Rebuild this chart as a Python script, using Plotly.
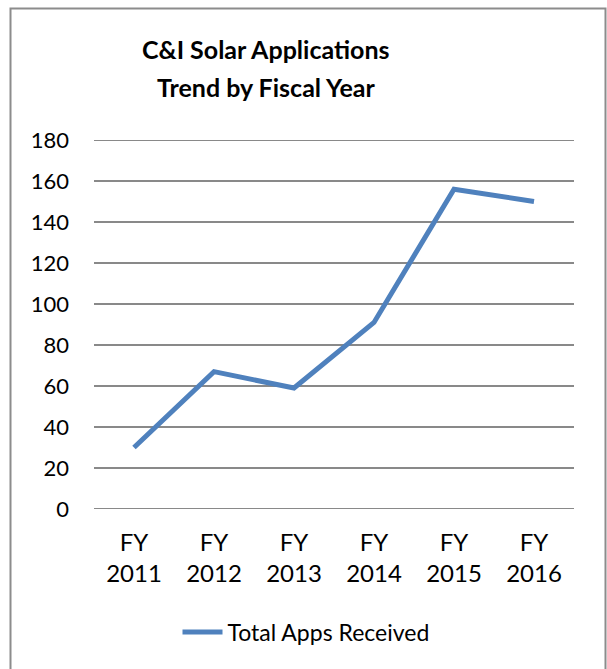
import plotly.graph_objects as go

categories = ["FY<br>2011", "FY<br>2012", "FY<br>2013", "FY<br>2014", "FY<br>2015", "FY<br>2016"]
total_apps = [30, 67, 59, 91, 156, 150]
y_ticks = [0, 20, 40, 60, 80, 100, 120, 140, 160, 180]
title_lines = ["C&I Solar Applications", "Trend by Fiscal Year"]

W, H = 607, 669
L, R, T, B = 94, 33, 140, 160
pw, ph = W - L - R, H - T - B

def px_x(p):
    return (p - L) / pw

def px_y(p):
    return (H - B - p) / ph

FONT = "Lato"
GRID = "#898989"

fig = go.Figure()
fig.add_trace(go.Scatter(
    x=categories, y=total_apps, mode="lines",
    name="Total Apps Received",
    line=dict(color="#4F81BD", width=5),
))

annotations = []
for txt, yc in zip(title_lines, [49, 87]):
    annotations.append(dict(
        text="<b>" + txt + "</b>", xref="paper", yref="paper",
        x=px_x(266), y=px_y(yc), xanchor="center", yanchor="middle",
        showarrow=False, font=dict(family=FONT, size=25, color="black"),
    ))

edge_lines = [dict(
    type="line", xref="paper", yref="y",
    x0=0, x1=1, y0=v, y1=v,
    line=dict(color=GRID, width=2), layer="below",
) for v in (y_ticks[0], y_ticks[-1])]

fig.update_layout(
    width=W, height=H,
    margin=dict(l=L, r=R, t=T, b=B),
    paper_bgcolor="white", plot_bgcolor="white",
    font=dict(family=FONT, size=22, color="black"),
    annotations=annotations,
    showlegend=True,
    legend=dict(
        orientation="h", xref="container", yref="container",
        x=306 / W, xanchor="center", y=1 - 632 / H, yanchor="middle",
        font=dict(family=FONT, size=23, color="black"),
        itemwidth=40,
    ),
    xaxis=dict(
        type="category", range=[-0.5, 5.5], showgrid=False, zeroline=False,
        showline=False, ticks="", ticklabelstandoff=17,
        tickfont=dict(size=24),
    ),
    yaxis=dict(
        range=[0, 180], tickvals=y_ticks, showgrid=True,
        gridcolor=GRID, gridwidth=2, zeroline=False, showline=False,
        ticks="", ticklabelstandoff=24,
    ),
    shapes=[dict(
        type="rect", xref="paper", yref="paper",
        x0=px_x(10.5), x1=px_x(605.5), y0=px_y(690), y1=px_y(8.5),
        line=dict(color="#8C8C8C", width=2), fillcolor="rgba(0,0,0,0)",
        layer="below",
    )] + edge_lines,
)

fig.write_html("out.html", config={"displayModeBar": False},
               post_script="document.body.style.margin='0';")
